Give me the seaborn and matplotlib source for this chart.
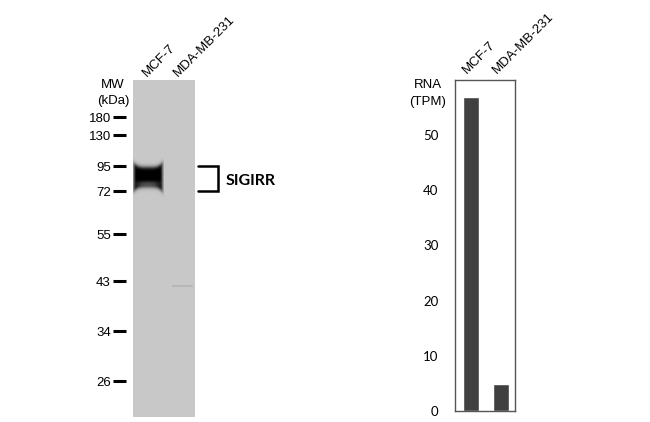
import seaborn as sns
import numpy as np
import pandas as pd
import matplotlib.pyplot as plt

# lanes / cell lines
lanes = ['MCF-7', 'MDA-MB-231']
# RNA expression (TPM)
rna_tpm = [57.0, 4.9]
# marker ladder: labels and migration position (pixel rows from top of image)
mw_labels = ['180', '130', '95', '72', '55', '43', '34', '26']
mw_pos = [117, 135, 166, 191, 234, 281, 331, 381]
target = 'SIGIRR'

sns.set_theme(style='white')
plt.rcParams['font.family'] = ['Liberation Sans', 'DejaVu Sans']
plt.rcParams['text.color'] = 'black'
plt.rcParams['ytick.labelcolor'] = 'black'

W, H = 650, 422
fig = plt.figure(figsize=(6.5, 4.22), dpi=100)

def fig_rect(x0, y0, x1, y1):
    # pixel box -> figure fraction
    return [x0 / W, 1 - y1 / H, (x1 - x0) / W, (y1 - y0) / H]

# ---------------- western blot ----------------
ax = fig.add_axes(fig_rect(133, 80, 195, 417))
ax.set_facecolor('#c8c8c8')
for s in ax.spines.values():
    s.set_visible(False)
ax.spines['left'].set_position(('outward', 5))
ax.set_xticks([])
ax.set_yticks(mw_pos)
ax.set_yticklabels(mw_labels, fontsize=9.5, color='black')
ax.tick_params(axis='y', left=True, length=9.5, width=2.2, color='black', pad=1.5)

# band in MCF-7 lane (soft dark blob, pinched top and bottom)
xs = np.linspace(0.0, 1.0, 120)
ys = np.linspace(156, 200, 180)
X, Y = np.meshgrid(xs, ys)
u = (X - 0.485) / 0.485
top = 168.0 - 5.5 * u ** 4
bot = 187.0 + 6.0 * u ** 4
sig = lambda z: 1 / (1 + np.exp(-z))
a = sig((Y - top) / 1.2) * sig((bot - Y) / 1.2) * sig((X - 0.03) / 0.025) * sig((0.95 - X) / 0.025)
a = a * (1 - 0.35 * np.exp(-((Y - 184) / 2.8) ** 2) * (1 - np.clip(np.abs(u), 0, 1) ** 2))
img = np.zeros(X.shape + (4,))
img[..., 3] = np.clip(a * 1.05, 0, 1)
ax.imshow(img, extent=(0.0, 1.0, 200, 156), aspect='auto', interpolation='bilinear', zorder=2)
ax.plot([1.3, 1.9], [286, 286], color='#999999', lw=1.5, alpha=0.35)
ax.set_xlim(0, 2)
ax.set_ylim(417, 80)

ax.text(-0.65, 85, 'MW', ha='center', va='center', fontsize=9.5, clip_on=False)
ax.text(-0.65, 101, '(kDa)', ha='center', va='center', fontsize=9.5, clip_on=False)

for i, name in enumerate(lanes):
    ax.text(i + 0.45, 77, name, rotation=45, rotation_mode='anchor',
            ha='left', va='baseline', fontsize=9.5, clip_on=False)

# bracket + label
ax.plot([2.10, 2.74, 2.74, 2.10], [mw_pos[2], mw_pos[2], mw_pos[3], mw_pos[3]],
        color='black', lw=1.8, clip_on=False, solid_joinstyle='miter')
ax.text(3.0, 181, target, ha='left', va='center', fontsize=11.5,
        fontweight='bold', family=['Lato', 'DejaVu Sans'], clip_on=False)

# ---------------- RNA bar chart ----------------
bx = fig.add_axes(fig_rect(455, 80, 515, 411))
df = pd.DataFrame({'cell': lanes, 'tpm': rna_tpm})
sns.barplot(data=df, x='cell', y='tpm', color='#404040', saturation=1,
            width=0.55, ax=bx)
bx.set_xlim(-0.53, 1.47)
bx.set_ylim(0, 60)
bx.set_yticks([0, 10, 20, 30, 40, 50])
bx.set_yticklabels(['0', '10', '20', '30', '40', '50'], family=['Lato', 'DejaVu Sans'],
                   fontsize=9.5, color='black')
bx.set_xticks([])
bx.set_xlabel('')
bx.set_ylabel('')
bx.tick_params(axis='y', length=0, pad=12)
for s in bx.spines.values():
    s.set_visible(True)
    s.set_color('#555555')
    s.set_linewidth(1.0)

fig.text(428 / W, 1 - 85 / H, 'RNA', ha='center', va='center', fontsize=9.5)
fig.text(428 / W, 1 - 102 / H, '(TPM)', ha='center', va='center', fontsize=9.5)

for i, name in enumerate(lanes):
    bx.text(i - 0.15, 61.0, name, rotation=45, rotation_mode='anchor',
            ha='left', va='baseline', fontsize=9.5, clip_on=False)

fig.savefig('out.png', dpi=100)
